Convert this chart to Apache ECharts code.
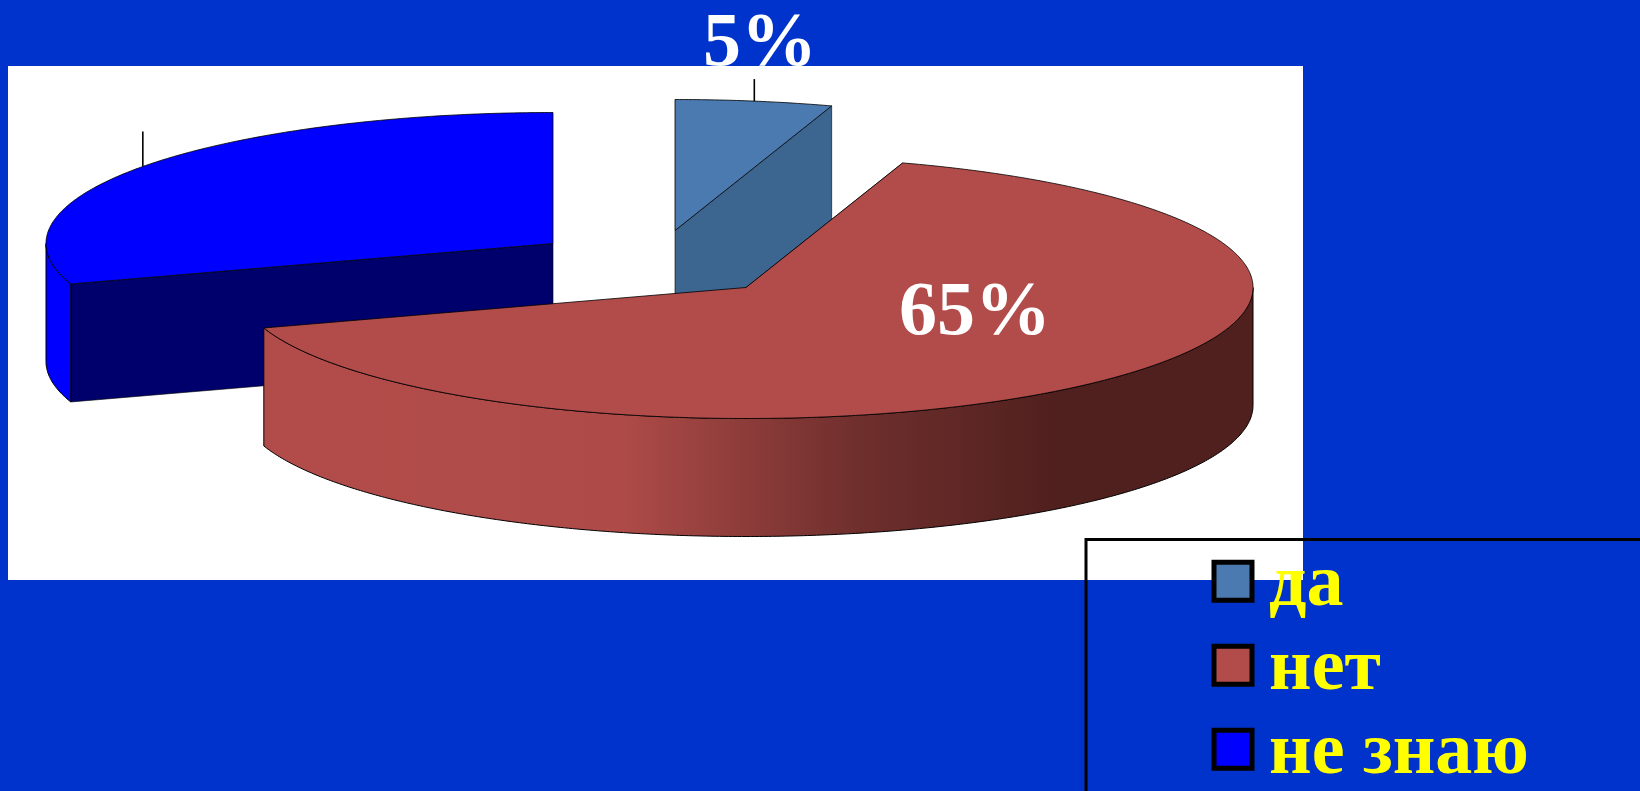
<!DOCTYPE html>
<html>
<head>
<meta charset="utf-8">
<title>Диаграмма</title>
<style>html,body{margin:0;padding:0;background:#0033cc;overflow:hidden}#chart{width:1640px;height:791px}</style>
<script src="https://cdn.jsdelivr.net/npm/echarts@6/dist/echarts.min.js"></script>
</head>
<body>
<div id="chart"></div>
<script>
// Shares of the answers, in percent
const categories = ['да', 'нет', 'не знаю'];
const values = [5, 65, 30];
const percentLabels = ['5%', '65%', ''];

// Look of each wedge
const topColors = ['#4a7ab0', '#b24c4a', '#0000ff'];
const cutColors = ['#3c6590', '#6e302e', '#00006c'];
const apexes = [[675, 230.5], [746, 287.5], [553, 243.5]];
const leaderLengths = [22, 35, 35];
const labelCenters = [[760, 45], [975, 314], null];
const paintOrder = [0, 2, 1];

// Ellipse of the tilted disc
const RX = 507, RY = 131, DEPTH = 118;
const START_DEG = -90;

const total = values.reduce((s, v) => s + v, 0);
const startOf = i => START_DEG + values.slice(0, i).reduce((s, v) => s + v, 0) * 360 / total;
const endOf = i => startOf(i) + values[i] * 360 / total;
const rad = d => d * Math.PI / 180;

function arc(cx, cy, from, to, dy) {
  const pts = [];
  const n = Math.max(2, Math.ceil(Math.abs(to - from) * 2));
  for (let k = 0; k <= n; k++) {
    const t = rad(from + (to - from) * k / n);
    pts.push([cx + RX * Math.cos(t), cy + RY * Math.sin(t) + (dy || 0)]);
  }
  return pts;
}

const redSideFill = new echarts.graphic.LinearGradient(0, 0, 1, 0, [
  { offset: 0, color: '#b24c4a' },
  { offset: 0.36, color: '#ae4b48' },
  { offset: 0.6, color: '#6f2f2d' },
  { offset: 0.8, color: '#50201e' },
  { offset: 1, color: '#4f201d' }
]);

function face(points, fill, width) {
  return {
    type: 'polygon',
    shape: { points },
    style: { fill, stroke: '#000', lineWidth: width }
  };
}

function renderWedge(i) {
  const [cx, cy] = apexes[i];
  const a0 = startOf(i), a1 = endOf(i);
  const children = [];

  // cut face on the side of the wedge that turns to the viewer
  const cutDeg = i === 0 ? a1 : a0;
  const ex = cx + RX * Math.cos(rad(cutDeg)), ey = cy + RY * Math.sin(rad(cutDeg));
  children.push(face([[cx, cy], [ex, ey], [ex, ey + DEPTH], [cx, cy + DEPTH]], cutColors[i], 0.6));

  // outer rim, only where the disc edge faces front
  const from = Math.max(a0, 0), to = Math.min(a1, 180);
  if (from < to) {
    const rim = arc(cx, cy, from, to).concat(arc(cx, cy, to, from, DEPTH));
    children.push(face(rim, i === 1 ? redSideFill : topColors[i], 1));
  }

  // top of the wedge
  children.push(face([[cx, cy]].concat(arc(cx, cy, a0, a1)), topColors[i], 0.8));

  // leader line rising from the middle of the arc
  if (i !== 1) {
    const mid = rad((a0 + a1) / 2);
    const lx = cx + RX * Math.cos(mid), ly = cy + RY * Math.sin(mid);
    children.push({
      type: 'line',
      shape: { x1: lx, y1: ly, x2: lx, y2: ly - leaderLengths[i] },
      style: { stroke: '#000', lineWidth: 1.6 }
    });
  }

  // value label
  if (labelCenters[i]) {
    children.push({
      type: 'text',
      x: labelCenters[i][0],
      y: labelCenters[i][1],
      style: {
        text: percentLabels[i],
        fill: '#fff',
        font: 'bold 76px "Liberation Serif"',
        align: 'center',
        verticalAlign: 'middle'
      }
    });
  }
  return { type: 'group', children };
}

const series = categories.map((name, i) => ({
  type: 'custom',
  name,
  coordinateSystem: 'none',
  z: 2 + paintOrder[i],
  itemStyle: { color: topColors[i] },
  data: [[values[i]]],
  silent: true,
  animation: false,
  renderItem: () => renderWedge(i)
}));

const chart = echarts.init(document.getElementById('chart'), null, { renderer: 'canvas' });
chart.setOption({
  animation: false,
  backgroundColor: '#0033cc',
  graphic: [
    { type: 'rect', z: 0, shape: { x: 8, y: 66, width: 1295, height: 514 }, style: { fill: '#fff' } },
    { type: 'rect', z: 1, shape: { x: 1086, y: 539.5, width: 700, height: 400 }, style: { fill: 'transparent', stroke: '#000', lineWidth: 3 } }
  ],
  legend: {
    orient: 'vertical',
    left: 1211.5,
    top: 539.3,
    height: 400,
    icon: 'rect',
    itemWidth: 38,
    itemHeight: 38,
    itemGap: 0,
    padding: 0,
    selectedMode: false,
    data: categories,
    itemStyle: { borderColor: '#000', borderWidth: 5 },
    formatter: '{t|{name}}',
    textStyle: {
      rich: {
        t: {
          color: '#ffff00',
          fontFamily: 'Liberation Serif',
          fontWeight: 'bold',
          fontSize: 74,
          lineHeight: 58,
          padding: [10, 0, 0, 12]
        }
      }
    }
  },
  series
});
</script>
</body>
</html>
